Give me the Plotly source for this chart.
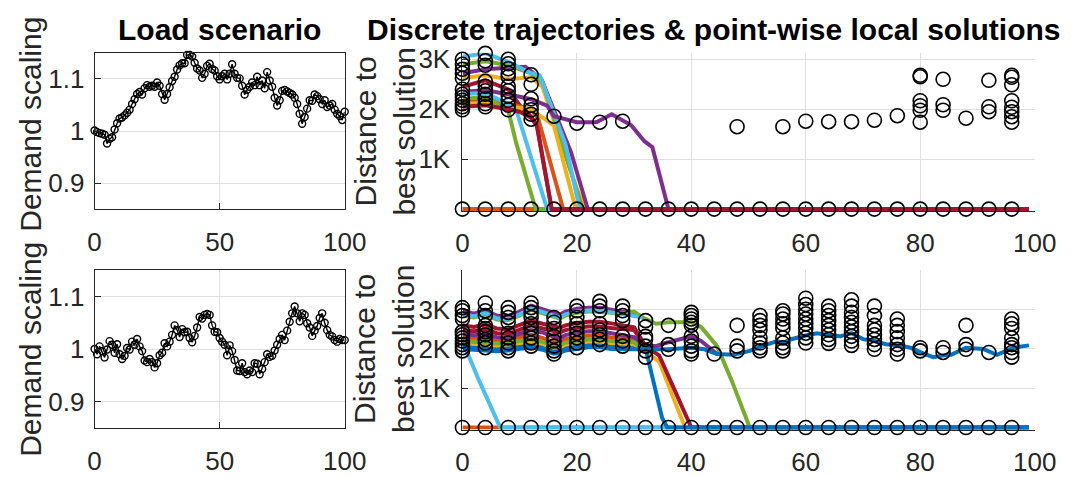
import plotly.graph_objects as go

# ---------------- data ----------------
demand_top = [1.001, 0.998, 0.996, 0.995, 0.993, 0.976, 0.985, 0.988, 1.003, 1.015,
              1.024, 1.026, 1.030, 1.035, 1.041, 1.052, 1.061, 1.071, 1.075, 1.070,
              1.082, 1.088, 1.085, 1.087, 1.085, 1.093, 1.087, 1.071, 1.060, 1.071,
              1.084, 1.096, 1.104, 1.118, 1.126, 1.130, 1.130, 1.146, 1.146, 1.143,
              1.131, 1.120, 1.116, 1.102, 1.110, 1.125, 1.129, 1.119, 1.116, 1.105,
              1.099, 1.105, 1.110, 1.099, 1.110, 1.128, 1.110, 1.102, 1.101, 1.087,
              1.070, 1.079, 1.085, 1.093, 1.088, 1.104, 1.088, 1.097, 1.082, 1.113,
              1.097, 1.085, 1.064, 1.049, 1.059, 1.077, 1.079, 1.076, 1.073, 1.070,
              1.064, 1.052, 1.033, 1.014, 1.027, 1.043, 1.059, 1.058, 1.070, 1.067,
              1.061, 1.052, 1.059, 1.046, 1.049, 1.052, 1.041, 1.033, 1.029, 1.021,
              1.037]
demand_bot = [1.000, 0.990, 1.005, 0.996, 0.984, 0.999, 1.015, 1.008, 0.993, 1.009,
              0.990, 0.981, 0.987, 1.002, 0.999, 1.014, 1.008, 1.019, 1.005, 0.996,
              0.978, 0.975, 0.981, 0.975, 0.965, 0.973, 0.988, 0.993, 1.011, 1.005,
              1.014, 1.027, 1.045, 1.036, 1.023, 1.038, 1.032, 1.033, 1.021, 1.013,
              1.025, 1.041, 1.061, 1.058, 1.065, 1.067, 1.065, 1.045, 1.033, 1.032,
              1.021, 1.014, 1.008, 0.988, 1.007, 0.996, 0.979, 0.959, 0.958, 0.973,
              0.956, 0.952, 0.959, 0.956, 0.973, 0.972, 0.952, 0.962, 0.975, 0.990,
              0.985, 0.987, 0.997, 1.008, 1.019, 1.027, 1.017, 1.035, 1.052, 1.068,
              1.081, 1.068, 1.053, 1.068, 1.065, 1.049, 1.041, 1.025, 1.035, 1.044,
              1.059, 1.068, 1.050, 1.036, 1.027, 1.024, 1.017, 1.014, 1.019, 1.017,
              1.017]
time_steps = list(range(101))

# top scenario: discrete trajectories (x, y) in drawing order
top_traj = [
    ([0, 99], [0, 0]),
    ([0, 99], [0, 0]),
    ([0, 4, 8, 12, 14, 20, 21.5, 99], [2620, 2680, 2600, 2640, 2450, 400, 0, 0]),
    ([0, 4, 8, 11, 13.8, 19, 21.9, 99], [2720, 2800, 2830, 2850, 2600, 1130, 0, 0]),
    ([0, 4, 8, 12, 14, 19, 21, 99], [2900, 2960, 2880, 2720, 2550, 700, 0, 0]),
    ([0, 4, 8, 12, 13.5, 18, 20.5, 99], [3050, 3120, 2950, 2720, 2680, 1300, 0, 0]),
    ([0, 4, 8, 10, 12, 13, 15.6, 99], [2450, 2580, 2400, 2080, 1850, 1700, 0, 0]),
    ([0, 4, 8, 12, 13.2, 17.6, 99], [2150, 2200, 2120, 1990, 1830, 0, 0]),
    ([0, 4, 8, 12, 16, 19.8, 99], [2100, 2130, 2050, 2000, 1670, 0, 0]),
    ([0, 4, 8, 10, 12, 14.8, 16, 20, 23.4, 26.1, 29.5, 31.8, 33.2, 35.2, 36, 99],
     [2350, 2380, 2300, 2250, 2200, 2070, 1860, 1740, 1740, 1900, 1680, 1360, 1240, 350, 0, 0]),
    ([0, 4, 8, 9.4, 12.8, 99], [2200, 2250, 1980, 1320, 0, 0]),
    ([0, 4, 8, 9.5, 14.8, 99], [2300, 2330, 2100, 1950, 0, 0]),
    ([0, 4, 8, 10, 12, 13, 15.6, 99], [2050, 2080, 2000, 1950, 1830, 1670, 0, 0]),
]

band_x = [0, 2, 4, 6, 8, 10, 12, 14, 16, 17, 18, 20, 22, 24, 26, 28, 30]
bot_traj = [
    (band_x + [31.5], [2080, 2060, 2040, 2020, 2040, 2080, 2120, 2060, 1960, 1980, 2040, 2080, 2120, 2120, 2080, 2070, 2050, 1990]),
    ([0, 99], [0, 0]),
    (band_x + [31.5, 34.4, 38.9, 99], [2220, 2200, 2180, 2150, 2170, 2220, 2260, 2200, 2100, 2110, 2180, 2220, 2260, 2260, 2220, 2200, 2180, 2000, 1670, 0, 0]),
    (band_x + [31.5], [2950, 2900, 2980, 2850, 2830, 2950, 3100, 3000, 2900, 2870, 2950, 3020, 3050, 3050, 3000, 2950, 2900, 2800]),
    (band_x + [31.5, 33.8, 36, 40, 41.7, 44.5, 47.1, 50.2, 99], [2850, 2800, 2880, 2750, 2730, 2850, 3000, 2900, 2800, 2770, 2850, 2920, 2950, 2950, 2920, 2900, 2950, 2800, 2640, 2680, 2680, 2560, 2070, 1180, 0, 0]),
    ([0, 0.5, 2.8, 6.6, 99], [2100, 2030, 1230, 0, 0]),
    (band_x + [32, 34.4, 40, 99], [2480, 2450, 2500, 2400, 2380, 2480, 2600, 2520, 2440, 2420, 2480, 2540, 2570, 2570, 2530, 2500, 2480, 2070, 1830, 0, 0]),
    (band_x + [32.1, 32.9, 34.9, 35.8, 99], [2050, 2030, 2010, 1990, 2010, 2050, 2090, 2030, 1930, 1950, 2010, 2050, 2090, 2090, 2050, 2040, 2020, 1950, 1460, 240, 0, 0]),
    (band_x + [31.5], [2300, 2270, 2260, 2220, 2240, 2300, 2360, 2280, 2170, 2180, 2250, 2300, 2340, 2340, 2290, 2270, 2240, 1990]),
    (band_x + [31.5], [2150, 2130, 2110, 2090, 2110, 2150, 2190, 2130, 2030, 2050, 2110, 2150, 2190, 2190, 2150, 2140, 2120, 1990]),
    (band_x + [31.5, 33.8, 35.5, 40, 41.7, 44.5], [2380, 2350, 2380, 2300, 2290, 2380, 2480, 2420, 2300, 2280, 2350, 2420, 2450, 2450, 2400, 2350, 2300, 2110, 2070, 2150, 2320, 2200, 1870]),
    (band_x + [31.5], [2200, 2180, 2160, 2140, 2160, 2200, 2240, 2180, 2080, 2100, 2160, 2200, 2240, 2240, 2200, 2190, 2170, 1990]),
    (band_x + [31.5], [2880, 2830, 2910, 2780, 2760, 2880, 3030, 2930, 2830, 2800, 2880, 2950, 2980, 2980, 2930, 2880, 2830, 2800]),
    (band_x + [32], [2600, 2560, 2620, 2520, 2500, 2600, 2720, 2640, 2560, 2540, 2600, 2660, 2690, 2690, 2650, 2600, 2550, 2070]),
    (band_x + [31.5, 36, 40, 42.3, 44.5, 47.4, 50.2, 53, 55, 56, 57.3, 60, 62, 64, 66, 68, 70, 72, 74,
               76.6, 78.3, 80.6, 82.3, 84, 85.4, 88, 91, 93.4, 96.3, 99],
     [2000, 1980, 1960, 1940, 1960, 2000, 2040, 1980, 1880, 1900, 1960, 2000, 2040, 2040, 2000, 1990, 1980,
      1990, 1990, 2030, 1990, 1870, 1850, 1950, 2100, 2200, 2150, 2240, 2340, 2400, 2350, 2320, 2400, 2250,
      2200, 2120, 2080, 2030, 1880, 1790, 1830, 1850, 2030, 2000, 1850, 2030, 2090]),
]

# point-wise local solutions (non-zero ones), per time step
top_sol_x = [0, 4, 8, 12, 16, 20, 24, 28, 48, 56, 60, 64, 68, 72, 76, 80, 84, 88, 92, 96]
top_sol_y = [
    [3000, 2900, 2800, 2720, 2620, 2400, 2300, 2240, 2180, 2110, 2050, 1990],
    [3120, 2970, 2880, 2560, 2460, 2370, 2300, 2210, 2110, 2050],
    [3000, 2910, 2810, 2720, 2650, 2460, 2370, 2270, 2180, 2080, 1990],
    [2690, 2500, 2210, 2080, 1990, 1900, 1800],
    [1860], [1720], [1740], [1760], [1650], [1650], [1760], [1750], [1750], [1780], [1870],
    [2680, 2650, 2170, 2070, 1980, 1740],
    [2600, 2090, 1980],
    [1820],
    [2580, 2050, 1950],
    [2680, 2640, 2490, 2170, 2040, 1950, 1850, 1740],
]
bot_sol_x = [0, 4, 8, 12, 16, 20, 24, 28, 32, 36, 40, 44, 48, 52, 56, 60, 64, 68, 72, 76, 80, 84, 88, 92, 96]
bot_sol_y = [
    [3050, 2970, 2850, 2760, 2440, 2360, 2280, 2200, 2110, 2030, 1950],
    [3170, 2970, 2850, 2600, 2520, 2440, 2360, 2240, 2150, 2030],
    [3050, 2930, 2800, 2680, 2400, 2280, 2150, 2030, 1950],
    [3170, 3050, 2930, 2800, 2640, 2520, 2400, 2280, 2150, 2070],
    [2800, 2680, 2520, 2320, 2200, 2070, 1950, 1870],
    [3090, 2970, 2800, 2640, 2520, 2400, 2280, 2150, 2030],
    [3210, 3090, 2970, 2640, 2480, 2360, 2240, 2110],
    [3090, 2970, 2850, 2720, 2320, 2200, 2070],
    [2720, 2560, 2320, 2240, 2070, 1950, 1790],
    [2600, 2110, 1990],
    [2930, 2850, 2760, 2680, 2600, 2320, 2200, 2070, 1950, 1870],
    [1870],
    [2600, 2070, 1950],
    [2850, 2720, 2600, 2480, 2280, 2150, 2030, 1950],
    [2970, 2890, 2760, 2640, 2520, 2280, 2150, 2030, 1950],
    [3290, 3130, 3010, 2890, 2760, 2640, 2520, 2400, 2280, 2150],
    [3090, 2970, 2850, 2720, 2600, 2480, 2360, 2240, 2140],
    [3250, 3090, 2930, 2800, 2680, 2560, 2440, 2320, 2200, 2090],
    [3090, 2850, 2600, 2480, 2360, 2240, 2110, 1990],
    [2760, 2600, 2440, 2280, 2110, 1990, 1870],
    [2030, 1950],
    [2030, 1910],
    [2600, 2110, 1990],
    [1910],
    [2760, 2640, 2520, 2280, 2110, 2030, 1910, 1790],
]
zero_sol_x = list(range(0, 100, 4))

left_xticks = [0, 50, 100]
left_yticks = [0.9, 1.0, 1.1]
left_yticktext = ["0.9", "1", "1.1"]
right_xticks = [0, 20, 40, 60, 80, 100]
right_yticks_top = [1000, 2000, 3000]
right_yticktext_top = ["1K", "2K", "3K"]
right_yticks_bot = [1000, 2000, 3000, 4000]
right_yticktext_bot = ["1K", "2K", "3K", ""]

# ---------------- style ----------------
W, H = 1080, 477
FONT = "Liberation Sans, Arial, sans-serif"
AX = "#262626"
GRID = "#dfdfdf"
B, O, Y, P, G, LB, DR = "#0072BD", "#D95319", "#EDB120", "#7E2F8E", "#77AC30", "#4DBEEE", "#A2142F"
top_colors = [B, O, Y, P, G, LB, DR, O, Y, P, G, LB, DR]
bot_colors = [B, O, Y, P, G, LB, DR, B, O, Y, P, G, LB, DR, B]


def fx(p):
    return p / W


def fy(p):
    return 1 - p / H


fig = go.Figure()

# left panels
for xa, ya, vals in [("x", "y", demand_top), ("x3", "y3", demand_bot)]:
    fig.add_trace(go.Scatter(
        x=time_steps[:len(vals)], y=vals, xaxis=xa, yaxis=ya, mode="lines+markers",
        line=dict(color="black", width=1.4),
        marker=dict(symbol="circle-open", size=7, color="black", line=dict(width=1.4, color="black")),
        cliponaxis=False, showlegend=False, hoverinfo="skip"))

# right panels: trajectories
for xa, ya, trajs, cols in [("x2", "y2", top_traj, top_colors), ("x4", "y4", bot_traj, bot_colors)]:
    for (tx, ty), c in zip(trajs, cols):
        fig.add_trace(go.Scatter(x=tx, y=ty, xaxis=xa, yaxis=ya, mode="lines",
                                 line=dict(color=c, width=4), showlegend=False, hoverinfo="skip"))

# right panels: local solutions
for xa, ya, sx, sy in [("x2", "y2", top_sol_x, top_sol_y), ("x4", "y4", bot_sol_x, bot_sol_y)]:
    px_, py_ = [], []
    for xv, ys in zip(sx, sy):
        for yv in ys:
            px_.append(xv)
            py_.append(yv)
    for xv in zero_sol_x:
        px_.append(xv)
        py_.append(0)
    fig.add_trace(go.Scatter(x=px_, y=py_, xaxis=xa, yaxis=ya, mode="markers",
                             marker=dict(symbol="circle-open", size=14, color="black",
                                         line=dict(width=1.6, color="black")),
                             cliponaxis=False, showlegend=False, hoverinfo="skip"))

tickfont = dict(family=FONT, size=26, color=AX)


def left_x(domain, anchor):
    return dict(domain=domain, anchor=anchor, range=[0, 100], tickvals=left_xticks,
                showgrid=True, gridcolor=GRID, gridwidth=1, zeroline=False,
                showline=True, mirror=True, linecolor=AX, linewidth=1,
                ticks="inside", ticklen=6, tickcolor=AX, tickfont=tickfont,
                ticklabelstandoff=10, fixedrange=True)


def left_y(domain, anchor):
    return dict(domain=domain, anchor=anchor, range=[0.85, 1.15], tickvals=left_yticks,
                ticktext=left_yticktext,
                showgrid=True, gridcolor=GRID, gridwidth=1, zeroline=False,
                showline=True, mirror=True, linecolor=AX, linewidth=1,
                ticks="inside", ticklen=6, tickcolor=AX, tickfont=tickfont,
                ticklabelstandoff=4, fixedrange=True)


def right_x(domain, anchor):
    return dict(domain=domain, anchor=anchor, range=[0, 100], tickvals=right_xticks,
                showgrid=True, gridcolor=GRID, gridwidth=1, zeroline=False,
                showline=True, mirror=False, linecolor=AX, linewidth=1,
                ticks="inside", ticklen=6, tickcolor=AX, tickfont=tickfont,
                ticklabelstandoff=9, layer="below traces", fixedrange=True)


def right_y(domain, anchor, rng, tv, tt):
    return dict(domain=domain, anchor=anchor, range=rng, tickvals=tv, ticktext=tt,
                showgrid=True, gridcolor=GRID, gridwidth=1, zeroline=False,
                showline=True, mirror=False, linecolor=AX, linewidth=1,
                ticks="inside", ticklen=6, tickcolor=AX, tickfont=tickfont,
                ticklabelstandoff=6, layer="below traces", fixedrange=True)


LXD = [fx(90), fx(347)]
RXD = [fx(468), fx(1056)]
fig.update_layout(
    width=W, height=H, margin=dict(l=0, r=0, t=0, b=0),
    paper_bgcolor="white", plot_bgcolor="white", showlegend=False,
    xaxis=left_x(LXD, "y"),
    yaxis=left_y([fy(211), fy(47)], "x"),
    xaxis3=left_x(LXD, "y3"),
    yaxis3=left_y([fy(440), fy(275)], "x3"),
    xaxis2=right_x(RXD, "y2"),
    yaxis2=right_y([fy(213), fy(47)], "x2", [-42, 3130], right_yticks_top, right_yticktext_top),
    xaxis4=right_x(RXD, "y4"),
    yaxis4=right_y([fy(442), fy(275)], "x4", [-54, 4000.5], right_yticks_bot, right_yticktext_bot),
)

ann = [
    dict(text="<b>Load scenario</b>", x=fx(218), y=fy(23), size=30, angle=0),
    dict(text="<b>Discrete trajectories &amp; point-wise local solutions</b>", x=fx(726), y=fy(23), size=30, angle=0),
    dict(text="Demand scaling", x=fx(24), y=fy(122), size=30, angle=-90),
    dict(text="Demand scaling", x=fx(24), y=fy(358), size=30, angle=-90),
    dict(text="Distance to<br>best solution", x=fx(388), y=fy(130), size=30, angle=-90),
    dict(text="Distance to<br>best solution", x=fx(388), y=fy(358), size=30, angle=-90),
]
for a in ann:
    fig.add_annotation(text=a["text"], x=a["x"], y=a["y"], xref="paper", yref="paper",
                       xanchor="center", yanchor="middle", showarrow=False, textangle=a["angle"],
                       font=dict(family=FONT, size=a["size"], color="black" if a["angle"] == 0 else AX))

fig.write_html("out.html", config={"displayModeBar": False},
               post_script="document.body.style.margin='0px';document.body.style.overflow='hidden';")
